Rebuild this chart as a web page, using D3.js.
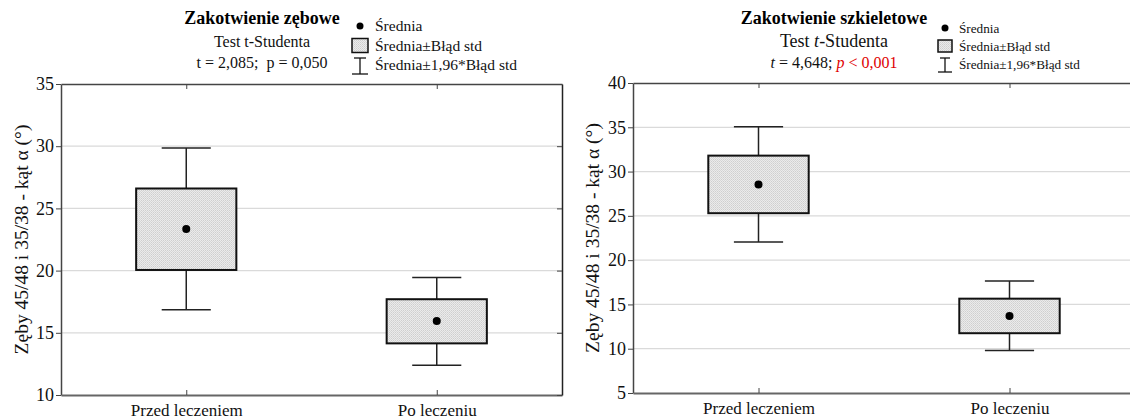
<!DOCTYPE html>
<html>
<head>
<meta charset="utf-8">
<script src="https://cdn.jsdelivr.net/npm/d3@7"></script>
<style>
  body { margin: 0; background: #fff; }
  svg { display: block; font-family: "Liberation Serif", "Times New Roman", serif; }
  text { white-space: pre; font-family: "Liberation Serif", "Times New Roman", serif; }
</style>
</head>
<body>
<svg id="chart" width="1130" height="419"></svg>
<script>
const categories = ['Przed leczeniem', 'Po leczeniu'];

// Zakotwienie zębowe
const zebMean = [23.35, 15.95];
const zebSeLow = [20.05, 14.15];
const zebSeHigh = [26.6, 17.7];
const zebCiLow = [16.85, 12.4];
const zebCiHigh = [29.85, 19.45];
const zebTicks = [10, 15, 20, 25, 30, 35];

// Zakotwienie szkieletowe
const szkMean = [28.55, 13.7];
const szkSeLow = [25.3, 11.75];
const szkSeHigh = [31.8, 15.65];
const szkCiLow = [22.05, 9.8];
const szkCiHigh = [35.05, 17.65];
const szkTicks = [5, 10, 15, 20, 25, 30, 35, 40];

const yTitle = 'Zęby 45/48 i 35/38 - kąt α (°)';

const svg = d3.select('#chart');

// fine stippled fill of the boxes
const pat = svg.append('defs').append('pattern')
    .attr('id', 'hatch')
    .attr('patternUnits', 'userSpaceOnUse')
    .attr('width', 2).attr('height', 2);
pat.append('rect').attr('width', 2).attr('height', 2).attr('fill', '#ebebeb');
pat.append('rect').attr('width', 1).attr('height', 1).attr('fill', '#cfcfcf');
pat.append('rect').attr('x', 1).attr('y', 1).attr('width', 1).attr('height', 1).attr('fill', '#d8d8d8');

function panel(opts) {
  const { left, top, width, height, ticks, mean, seLow, seHigh, ciLow, ciHigh, border } = opts;
  const g = svg.append('g').attr('transform', `translate(${left},${top})`);
  const x = d3.scalePoint().domain(categories).range([0, width]).padding(0.5);
  const y = d3.scaleLinear().domain(d3.extent(ticks)).range([height, 0]);
  const boxW = width * 0.1;
  const capW = width * 0.049;

  // grid
  g.append('g').selectAll('line')
    .data(ticks.slice(1, -1))
    .join('line')
      .attr('x1', 0).attr('x2', width)
      .attr('y1', d => y(d)).attr('y2', d => y(d))
      .attr('stroke', '#dadada').attr('stroke-width', 1.2);

  const data = categories.map((c, i) => ({
    c, m: mean[i], sl: seLow[i], sh: seHigh[i], cl: ciLow[i], ch: ciHigh[i]
  }));

  const item = g.append('g').selectAll('g').data(data).join('g');
  item.append('line')
      .attr('x1', d => x(d.c)).attr('x2', d => x(d.c))
      .attr('y1', d => y(d.ch)).attr('y2', d => y(d.sh))
      .attr('stroke', '#222').attr('stroke-width', 1.5);
  item.append('line')
      .attr('x1', d => x(d.c)).attr('x2', d => x(d.c))
      .attr('y1', d => y(d.sl)).attr('y2', d => y(d.cl))
      .attr('stroke', '#222').attr('stroke-width', 1.5);
  item.append('line')
      .attr('x1', d => x(d.c) - capW).attr('x2', d => x(d.c) + capW)
      .attr('y1', d => y(d.ch)).attr('y2', d => y(d.ch))
      .attr('stroke', '#222').attr('stroke-width', 1.5);
  item.append('line')
      .attr('x1', d => x(d.c) - capW).attr('x2', d => x(d.c) + capW)
      .attr('y1', d => y(d.cl)).attr('y2', d => y(d.cl))
      .attr('stroke', '#222').attr('stroke-width', 1.5);
  item.append('rect')
      .attr('x', d => x(d.c) - boxW)
      .attr('width', boxW * 2)
      .attr('y', d => y(d.sh))
      .attr('height', d => y(d.sl) - y(d.sh))
      .attr('fill', 'url(#hatch)')
      .attr('stroke', '#111').attr('stroke-width', 2);
  item.append('circle')
      .attr('cx', d => x(d.c)).attr('cy', d => y(d.m))
      .attr('r', 4).attr('fill', '#000');

  // axes
  const yAxis = g.append('g')
      .call(d3.axisLeft(y).tickValues(ticks).tickSize(5).tickSizeOuter(0).tickPadding(2));
  yAxis.attr('font-family', null).attr('font-size', null);
  yAxis.select('.domain').attr('stroke', '#444').attr('stroke-width', 1.5);
  yAxis.selectAll('.tick line').attr('stroke', '#444');
  yAxis.selectAll('text').attr('font-size', 18).attr('fill', '#111');

  const xAxis = g.append('g')
      .attr('transform', `translate(0,${height})`)
      .call(d3.axisBottom(x).tickSize(-5).tickSizeOuter(0).tickPadding(9));
  xAxis.attr('font-family', null).attr('font-size', null);
  xAxis.select('.domain').attr('stroke', '#666').attr('stroke-width', 2);
  xAxis.selectAll('.tick line').attr('stroke', '#444');
  xAxis.selectAll('text').attr('font-size', 17).attr('fill', '#111');

  const topAxis = g.append('g')
      .call(d3.axisTop(x).tickSize(-5).tickSizeOuter(0).tickFormat(''));
  topAxis.select('.domain').attr('stroke', '#444').attr('stroke-width', 1.5);
  topAxis.selectAll('.tick line').attr('stroke', '#444');

  if (border) {
    const rAxis = g.append('g')
        .attr('transform', `translate(${width},0)`)
        .call(d3.axisRight(y).tickValues(ticks).tickSize(-5).tickSizeOuter(0).tickFormat(''));
    rAxis.select('.domain').attr('stroke', '#222').attr('stroke-width', 1.5);
    rAxis.selectAll('.tick line').attr('stroke', '#444');
  }

  g.append('text')
      .attr('transform', `translate(${opts.titleX},${height / 2}) rotate(-90)`)
      .attr('text-anchor', 'middle')
      .attr('font-size', 19.5)
      .attr('fill', '#111')
      .text(yTitle);
  return g;
}

panel({
  left: 61, top: 84, width: 501, height: 311, ticks: zebTicks,
  mean: zebMean, seLow: zebSeLow, seHigh: zebSeHigh, ciLow: zebCiLow, ciHigh: zebCiHigh,
  border: true, titleX: -33
});
panel({
  left: 633, top: 83, width: 502, height: 310, ticks: szkTicks,
  mean: szkMean, seLow: szkSeLow, seHigh: szkSeHigh, ciLow: szkCiLow, ciHigh: szkCiHigh,
  border: false, titleX: -34
});

// headers
function header(cx, title, titleSize, subSize, statsBuild) {
  svg.append('text').attr('x', cx).attr('y', 24).attr('text-anchor', 'middle')
      .attr('font-size', titleSize).attr('font-weight', 'bold').attr('fill', '#000').text(title);
  const sub = svg.append('text').attr('x', cx).attr('y', 47).attr('text-anchor', 'middle')
      .attr('font-size', subSize).attr('fill', '#111');
  statsBuild.sub(sub);
  const st = svg.append('text').attr('x', cx).attr('y', 68).attr('text-anchor', 'middle')
      .attr('font-size', subSize).attr('fill', '#111');
  statsBuild.stats(st);
}

header(262, 'Zakotwienie zębowe', 18, 16, {
  sub: t => t.text('Test t-Studenta'),
  stats: t => t.text('t = 2,085;  p = 0,050')
});
header(834, 'Zakotwienie szkieletowe', 18, 18, {
  sub: t => {
    t.append('tspan').text('Test ');
    t.append('tspan').attr('font-style', 'italic').text('t');
    t.append('tspan').text('-Studenta');
  },
  stats: t => {
    t.attr('font-size', 16);
    t.append('tspan').attr('font-style', 'italic').text('t');
    t.append('tspan').text(' = 4,648; ');
    t.append('tspan').attr('font-style', 'italic').attr('fill', '#e00000').text('p');
    t.append('tspan').attr('fill', '#e00000').text(' < 0,001');
  }
});

// legends
const legendLabels = ['Średnia', 'Średnia±Błąd std', 'Średnia±1,96*Błąd std'];
function legend(x0, y0, step, sym, fs) {
  const g = svg.append('g').attr('transform', `translate(${x0},${y0})`);
  const rows = g.selectAll('g').data(legendLabels).join('g')
      .attr('transform', (d, i) => `translate(0,${i * step})`);
  rows.append('text').attr('x', sym + 7).attr('y', 0).attr('dy', '0.35em')
      .attr('font-size', fs).attr('fill', '#111').text(d => d);
  const h = sym / 2;
  g.append('circle').attr('cx', h).attr('cy', 0).attr('r', 3.5).attr('fill', '#000');
  g.append('rect').attr('x', 0).attr('y', step - h + 1).attr('width', sym).attr('height', sym - 2)
      .attr('fill', 'url(#hatch)').attr('stroke', '#111').attr('stroke-width', 1.5);
  const w = g.append('g').attr('transform', `translate(0,${2 * step})`);
  w.append('line').attr('x1', 2).attr('x2', sym - 2).attr('y1', -h + 1).attr('y2', -h + 1)
      .attr('stroke', '#111').attr('stroke-width', 1.3);
  w.append('line').attr('x1', 0).attr('x2', sym).attr('y1', h + 1).attr('y2', h + 1)
      .attr('stroke', '#111').attr('stroke-width', 1.3);
  w.append('line').attr('x1', h).attr('x2', h).attr('y1', -h + 1).attr('y2', h + 1)
      .attr('stroke', '#111').attr('stroke-width', 1.3);
}
legend(352, 26, 19.5, 16, 15.5);
legend(938, 28, 18, 14, 13.2);
</script>
</body>
</html>
